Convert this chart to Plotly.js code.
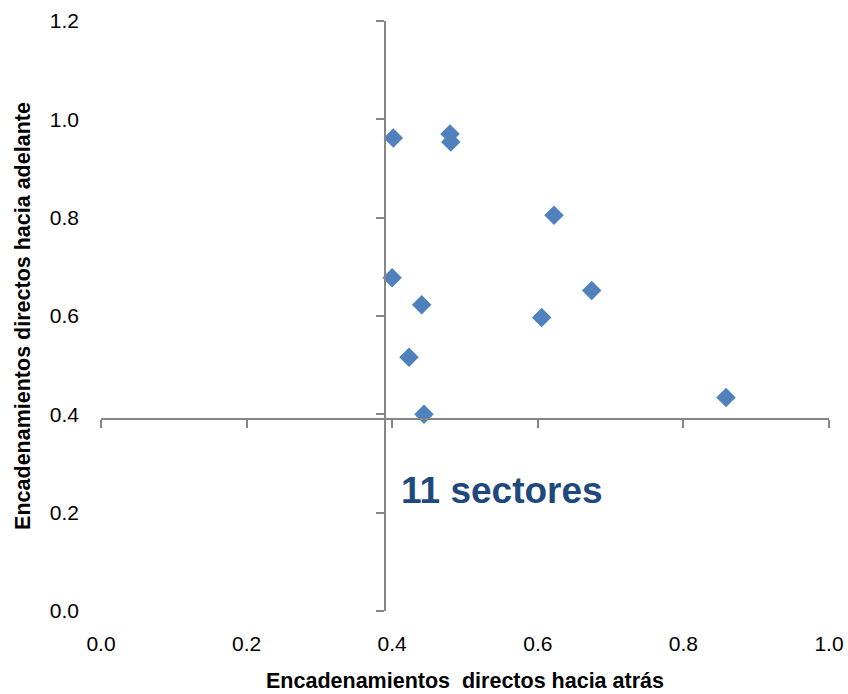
<!DOCTYPE html>
<html>
<head>
<meta charset="utf-8">
<script src="https://cdn.plot.ly/plotly-3.0.1.min.js"></script>
<style>html,body{margin:0;padding:0;background:#fff;}#chart{width:848px;height:694px;}</style>
</head>
<body>
<div id="chart"></div>
<script>
// Encadenamientos directos hacia atrás (x) y hacia adelante (y), 11 sectores
const backwardLinkages = [0.4015, 0.4794, 0.4804, 0.6223, 0.3999, 0.6740, 0.4405, 0.6053, 0.4231, 0.4437, 0.8585];
const forwardLinkages  = [0.962, 0.970, 0.954, 0.805, 0.678, 0.652, 0.623, 0.597, 0.516, 0.400, 0.434];
const xTickValues = [0, 0.2, 0.4, 0.6, 0.8, 1.0];
const xTickLabels = ['0.0', '0.2', '0.4', '0.6', '0.8', '1.0'];
const yTickValues = [0, 0.2, 0.4, 0.6, 0.8, 1.0, 1.2];
const yTickLabels = ['0.0', '0.2', '0.4', '0.6', '0.8', '1.0', '1.2'];
const crossX = 0.39;   // where the vertical axis crosses
const crossY = 0.39;   // where the horizontal axis crosses
const xRange = [0, 1.0];
const yRange = [0, 1.2];
const xTitle = 'Encadenamientos  directos hacia atrás';
const yTitle = 'Encadenamientos directos hacia adelante';
const noteText = '11 sectores';
const noteX = 0.410, noteY = 0.2455;

const axisColor = '#868686';
const tickFont = {family: 'Liberation Sans, Arial, sans-serif', size: 21, color: '#000000'};
const titleFont = {family: 'Liberation Sans, Arial, sans-serif', size: 21.5, color: '#000000', weight: 'bold'};

const traces = [
  {
    type: 'scatter', mode: 'markers',
    x: backwardLinkages, y: forwardLinkages,
    marker: {symbol: 'diamond', size: 15, color: '#4F81BD', line: {width: 0}},
    hoverinfo: 'x+y', showlegend: false
  },
  {
    type: 'scatter', mode: 'markers', x: [], y: [],
    xaxis: 'x2', yaxis: 'y2', showlegend: false, hoverinfo: 'skip'
  }
];

const layout = {
  width: 848, height: 694,
  margin: {l: 101, r: 19, t: 21, b: 83},
  paper_bgcolor: '#ffffff', plot_bgcolor: '#ffffff',
  showlegend: false,
  xaxis: {
    range: xRange, tickvals: xTickValues, ticktext: xTickLabels,
    showgrid: false, zeroline: false, showline: false, ticks: '',
    tickfont: tickFont, ticklabelstandoff: 18,
    title: {text: '<b>' + xTitle + '</b>', font: titleFont, standoff: 18}
  },
  yaxis: {
    range: yRange, tickvals: yTickValues, ticktext: yTickLabels,
    showgrid: false, zeroline: false, showline: false, ticks: '',
    tickfont: tickFont, ticklabelstandoff: 21,
    title: {text: '<b>' + yTitle + '</b>', font: titleFont, standoff: 13}
  },
  xaxis2: {
    overlaying: 'x', anchor: 'free', position: crossY / yRange[1],
    range: xRange, tickvals: xTickValues, showticklabels: false,
    showgrid: false, zeroline: false,
    showline: true, linecolor: axisColor, linewidth: 2,
    ticks: 'outside', ticklen: 8, tickwidth: 2, tickcolor: axisColor
  },
  yaxis2: {
    overlaying: 'y', anchor: 'free', position: crossX / xRange[1], side: 'left',
    range: yRange, tickvals: yTickValues, showticklabels: false,
    showgrid: false, zeroline: false,
    showline: true, linecolor: axisColor, linewidth: 2,
    ticks: 'outside', ticklen: 8, tickwidth: 2, tickcolor: axisColor
  },
  annotations: [{
    x: noteX, y: noteY, xref: 'x', yref: 'y',
    xanchor: 'left', yanchor: 'middle', showarrow: false,
    text: '<b>' + noteText + '</b>',
    font: {family: 'Liberation Sans, Arial, sans-serif', size: 37, color: '#1F497D'}
  }]
};

Plotly.newPlot('chart', traces, layout, {displayModeBar: false, staticPlot: true});
</script>
</body>
</html>
